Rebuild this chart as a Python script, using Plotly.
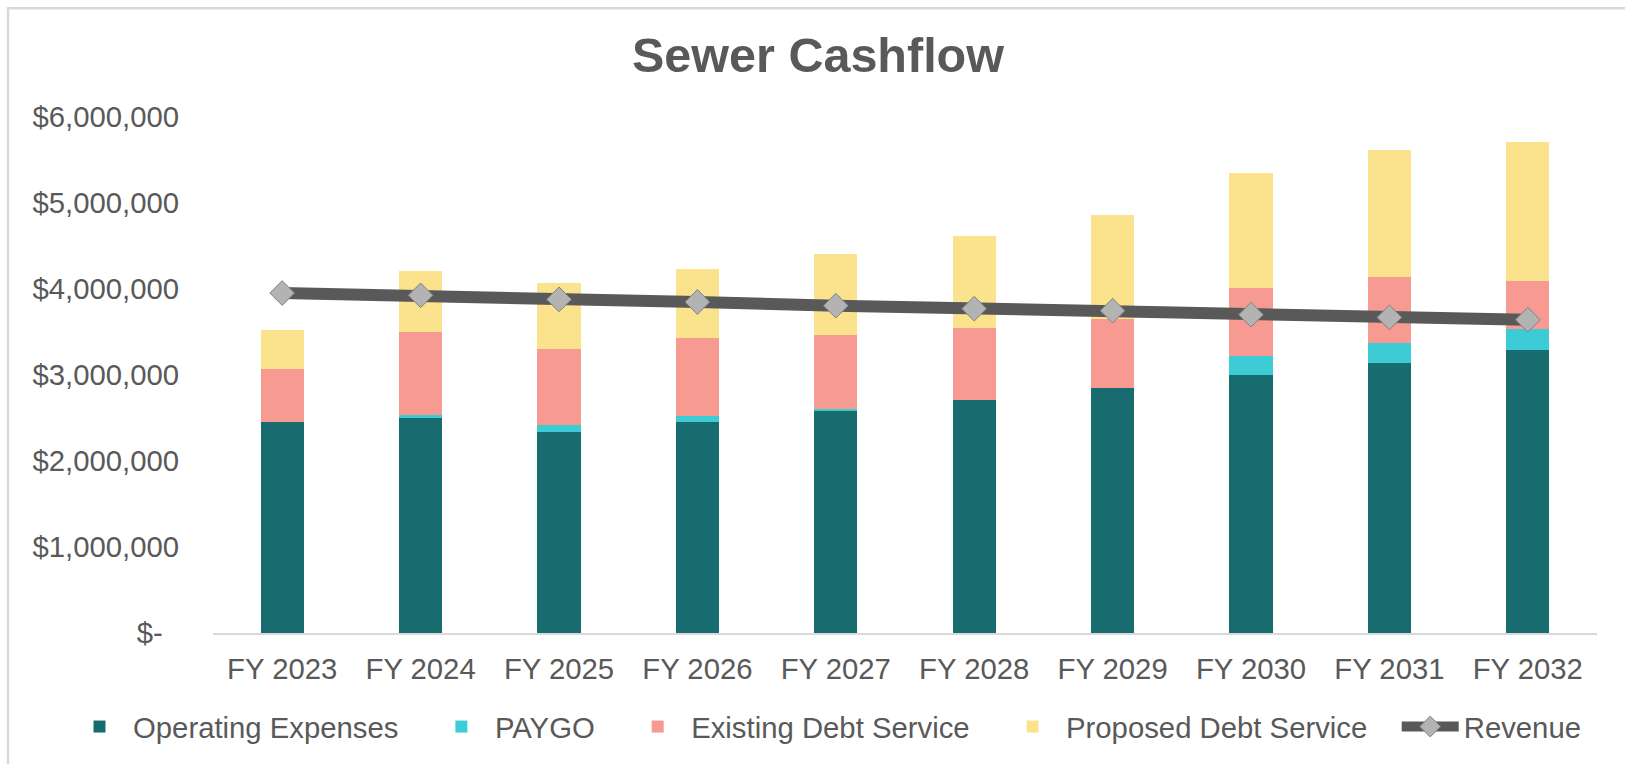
import plotly.graph_objects as go

years = ["FY 2023", "FY 2024", "FY 2025", "FY 2026", "FY 2027",
         "FY 2028", "FY 2029", "FY 2030", "FY 2031", "FY 2032"]
operating_expenses = [2458000, 2501000, 2338000, 2458000, 2578000,
                      2714000, 2849000, 2996000, 3140000, 3295000]
paygo = [0, 30000, 77000, 62000, 31000, 0, 0, 221000, 228000, 236000]
existing_debt = [612000, 973000, 891000, 906000, 860000,
                 833000, 802000, 790000, 775000, 566000]
proposed_debt = [457000, 709000, 759000, 806000, 941000,
                 1069000, 1204000, 1341000, 1472000, 1607000]
revenue = [3953000, 3926000, 3879000, 3849000, 3806000,
           3771000, 3748000, 3701000, 3670000, 3643000]
y_tick_vals = [0, 1000000, 2000000, 3000000, 4000000, 5000000, 6000000]
y_tick_text = ["$-\u00a0\u00a0", "$1,000,000", "$2,000,000", "$3,000,000",
               "$4,000,000", "$5,000,000", "$6,000,000"]

W, H = 1625, 764
ML, MR, MT, MB = 213, 28, 117, 130
FONT = "Liberation Sans, Arial, sans-serif"
TXT = "#595959"
FS = 29.3
PAD = "\u00a0" * 3
ITEMW = 57

fig = go.Figure()
fig.add_trace(go.Bar(name="Operating Expenses" + PAD, x=years, y=operating_expenses,
                     marker=dict(color="#186B6F", line=dict(width=0))))
fig.add_trace(go.Bar(name="PAYGO" + PAD, x=years, y=paygo,
                     marker=dict(color="#3DCBD6", line=dict(width=0))))
fig.add_trace(go.Bar(name="Existing Debt Service" + PAD, x=years, y=existing_debt,
                     marker=dict(color="#F69A92", line=dict(width=0))))
fig.add_trace(go.Bar(name="Proposed Debt Service" + PAD, x=years, y=proposed_debt,
                     marker=dict(color="#FAE38C", line=dict(width=0))))
fig.add_trace(go.Scatter(name="Revenue", x=years, y=revenue, mode="lines+markers",
                         line=dict(color="#595959", width=12),
                         marker=dict(symbol="diamond", size=19, color="#B3B3B3",
                                     line=dict(color="#808080", width=1))))

pw = W - ML - MR
ph = H - MT - MB
def px2paper_x(p):
    return (p - ML) / pw
def px2paper_y(p):
    return 1 - (p - MT) / ph

legend_left_px = 133 - (ITEMW + 10)

fig.update_layout(
    width=W, height=H,
    margin=dict(l=ML, r=MR, t=MT, b=MB, pad=0),
    paper_bgcolor="white", plot_bgcolor="white",
    barmode="stack", bargap=0.687,
    font=dict(family=FONT, size=FS, color=TXT),
    title=dict(text="<b>Sewer Cashflow</b>", x=818 / W, xref="container", xanchor="center",
               y=1 - 55 / H, yref="container", yanchor="middle",
               font=dict(family=FONT, size=48.5, color=TXT)),
    xaxis=dict(range=[-0.5, len(years) - 0.5], showgrid=False, zeroline=False,
               showline=True, linecolor="#D9D9D9",
               linewidth=2, ticks="outside", ticklen=9, tickcolor="rgba(0,0,0,0)",
               tickfont=dict(size=FS, color=TXT)),
    yaxis=dict(range=[0, 6000000], showgrid=False, zeroline=False, showline=False,
               tickmode="array", tickvals=y_tick_vals, ticktext=y_tick_text,
               ticks="outside", ticklen=27, tickcolor="rgba(0,0,0,0)",
               tickfont=dict(size=FS, color=TXT)),
    legend=dict(orientation="h", xref="paper", yref="paper",
                x=px2paper_x(legend_left_px), xanchor="left",
                y=px2paper_y(727), yanchor="middle",
                font=dict(size=FS, color=TXT), itemwidth=ITEMW, traceorder="normal",
                bgcolor="rgba(0,0,0,0)", borderwidth=0),
    shapes=[dict(type="rect", xref="paper", yref="paper",
                 x0=px2paper_x(8), x1=px2paper_x(W + 20),
                 y0=px2paper_y(H + 20), y1=px2paper_y(8),
                 line=dict(color="#D9D9D9", width=2.5), fillcolor="rgba(0,0,0,0)",
                 layer="below")],
)

fig.write_html("out.html",
               config={"displayModeBar": False},
               post_script="document.body.style.margin='0px';"
                           "document.documentElement.style.overflow='hidden';")
